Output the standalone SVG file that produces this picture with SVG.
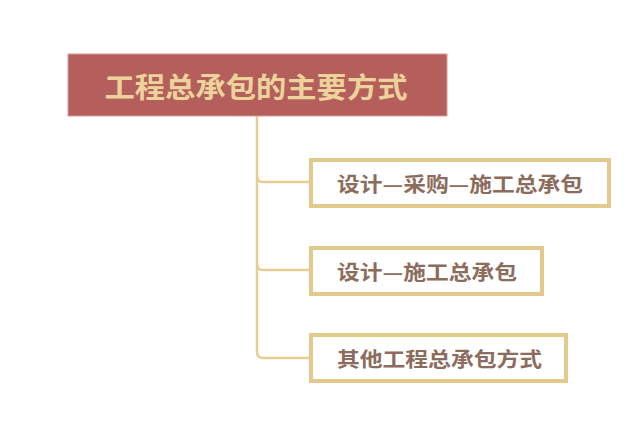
<svg xmlns="http://www.w3.org/2000/svg" width="640" height="439" viewBox="0 0 640 439">
<style>
.child rect{fill:#fff;stroke:#e2c98c;stroke-width:4}
.child text{font-family:"Noto Sans CJK SC","Noto Sans CJK JP",sans-serif;font-weight:bold;font-size:20px;fill:#8c6c5c;dominant-baseline:central}
.conn path{fill:none;stroke:#e5cf97;stroke-width:2.5}
</style>
<rect width="640" height="439" fill="#fff"/>
<g class="conn">
<path d="M257,116 V352 Q257,358 263,358 H310"/>
<path d="M257,176 Q257,182 263,182 H310"/>
<path d="M257,264 Q257,270 263,270 H310"/>
</g>
<g id="root">
<rect x="68" y="54" width="379" height="62" fill="#b55f5d" stroke="#d89a98" stroke-width="1"/>
<text x="256" y="86" text-anchor="middle" dominant-baseline="central" font-family="Noto Sans CJK SC,Noto Sans CJK JP,sans-serif" font-weight="bold" font-size="28" fill="#ecd39c" textLength="303" lengthAdjust="spacingAndGlyphs">工程总承包的主要方式</text>
</g>
<g id="n1" class="child">
<rect x="311" y="160" width="298" height="46"/>
<text x="337" y="183" textLength="246" lengthAdjust="spacingAndGlyphs">设计—采购—施工总承包</text>
</g>
<g id="n2" class="child">
<rect x="311" y="248" width="231" height="46"/>
<text x="337" y="271" textLength="180" lengthAdjust="spacingAndGlyphs">设计—施工总承包</text>
</g>
<g id="n3" class="child">
<rect x="311" y="335" width="255" height="46"/>
<text x="337" y="358" textLength="205" lengthAdjust="spacingAndGlyphs">其他工程总承包方式</text>
</g>
</svg>
